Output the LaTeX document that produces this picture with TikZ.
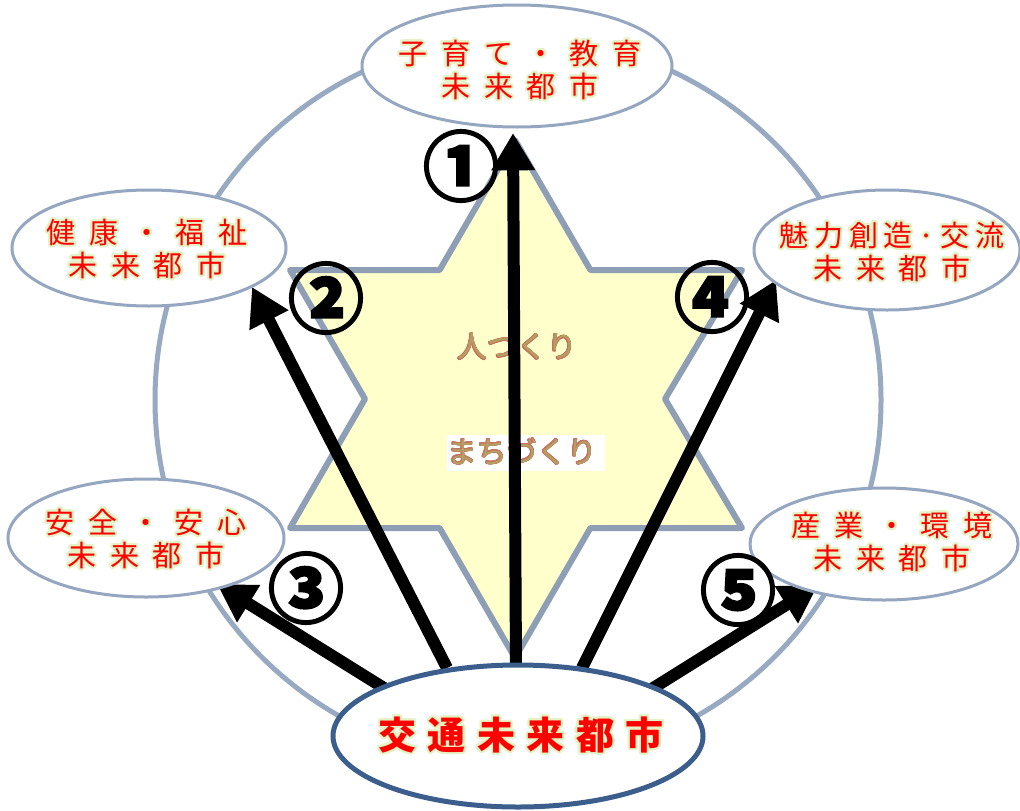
\documentclass[tikz,border=0pt]{standalone}
\usepackage{fontspec}
\usepackage[copies]{contour}
\usetikzlibrary{arrows.meta,shapes.geometric}
\newfontfamily\jp{Noto Sans CJK JP}
\newfontfamily\jpnum[FakeBold=2.5]{Noto Sans CJK JP}
\newfontfamily\jpA[LetterSpace=48]{Noto Sans CJK JP}
\newfontfamily\jpB[LetterSpace=20]{Noto Sans CJK JP}
\newfontfamily\jpC[LetterSpace=30]{Noto Sans CJK JP}
\definecolor{ringc}{HTML}{98A9C2}
\definecolor{starb}{HTML}{8E9EB5}
\definecolor{starf}{HTML}{FFFFCC}
\definecolor{ellc}{HTML}{94A6C0}
\definecolor{botc}{HTML}{3B5E8C}
\definecolor{glowc}{HTML}{E4F2C4}
\definecolor{tanc}{HTML}{B4A060}
\definecolor{tanedge}{HTML}{C87060}
\newcommand\glow[1]{\contour{glowc}{#1}}
\newcommand\tanglow[1]{{\contourlength{0.45pt}\contour{tanedge}{#1}}}
\contourlength{1.6pt}
\begin{document}
\begin{tikzpicture}[x=0.75pt,y=-0.75pt,
  ell/.style={draw=ellc, line width=2.25pt, fill=white, ellipse, inner sep=0pt},
  lbl/.style={text=red, align=center, inner sep=0pt, font=\jpA\fontsize{21.75}{24.75}\selectfont},
  arr/.style={line width=9pt, -{Triangle[width=31pt,length=28pt]}},
  num/.style={font=\jpnum\bfseries\fontsize{57}{57}\selectfont, inner sep=0pt},
  startxt/.style={text=tanc, inner sep=0pt, font=\jp\fontsize{22.5}{22.5}\selectfont}]
\useasboundingbox (0,0) rectangle (1020,810);
\fill[white] (0,0) rectangle (1020,810);
% ring
\draw[ringc, line width=3.75pt] (518,400) circle[radius=363];
% star
\draw[starb, fill=starf, line width=4.5pt, line join=round]
  (515,140) -- (590.4,270) -- (742,270) -- (665,399) -- (742,528) -- (590.4,528)
  -- (515,658) -- (439.6,528) -- (290,528) -- (365,399) -- (290,270) -- (439.6,270) -- cycle;
\node[startxt] (s1) at (517,347) {\tanglow{人つくり}};
\node[fill=white, minimum width=118.5pt, minimum height=27pt, inner sep=0pt] (s2box) at (526,453) {};
\node[startxt] (s2) at (522,452) {\tanglow{まちづくり}};
% arrow end points
\coordinate (t1) at (516,668); \coordinate (h1) at (513,133);
\coordinate (t2) at (447,668); \coordinate (h2) at (252,287);
\coordinate (t3) at (384,688); \coordinate (h3) at (217,584);
\coordinate (t4) at (582,668); \coordinate (h4) at (776,280);
\coordinate (t5) at (650,690); \coordinate (h5) at (818,585);
\draw[arr] (t1) -- (h1);
\draw[arr] (t2) -- (h2);
\draw[arr] (t3) -- (h3);
\draw[arr] (t4) -- (h4);
\draw[arr] (t5) -- (h5);
% ellipses
\node[ell, minimum width=232.5pt, minimum height=91.5pt] (e1) at (517,66) {};
\node[ell, minimum width=205.5pt, minimum height=87pt] (e2) at (149,248) {};
\node[ell, minimum width=199.5pt, minimum height=90pt] (e4) at (887,250) {};
\node[ell, minimum width=207pt, minimum height=88.5pt] (e3) at (146,538) {};
\node[ell, minimum width=201pt, minimum height=84pt] (e5) at (884,544) {};
\node[draw=botc, line width=3.75pt, fill=white, ellipse, inner sep=0pt,
      minimum width=277.5pt, minimum height=106.5pt] (e0) at (518,736) {};
% labels
\node[lbl] (l1) at (520,71) {\glow{子育て・教育}\\\glow{未来都市}};
\node[lbl] (l2) at (147,250) {\glow{健康・福祉}\\\glow{未来都市}};
\node[lbl] (l4) at (892,253) {{\jpB\glow{魅力創造·交流}}\\\glow{未来都市}};
\node[lbl] (l3) at (146,540) {\glow{安全・安心}\\\glow{未来都市}};
\node[lbl] (l5) at (892,543) {\glow{産業・環境}\\\glow{未来都市}};
\node[text=red, inner sep=0pt, font=\jpC\bfseries\fontsize{28.5}{28.5}\selectfont] (l0) at (521,736) {\glow{交通未来都市}};
% numbers
\node[num] (n1) at (461,166) {①};
\node[num] (n2) at (326,298) {②};
\node[num] (n3) at (306,588) {③};
\node[num] (n4) at (712,297) {④};
\node[num] (n5) at (738,590) {⑤};
\end{tikzpicture}
\end{document}
